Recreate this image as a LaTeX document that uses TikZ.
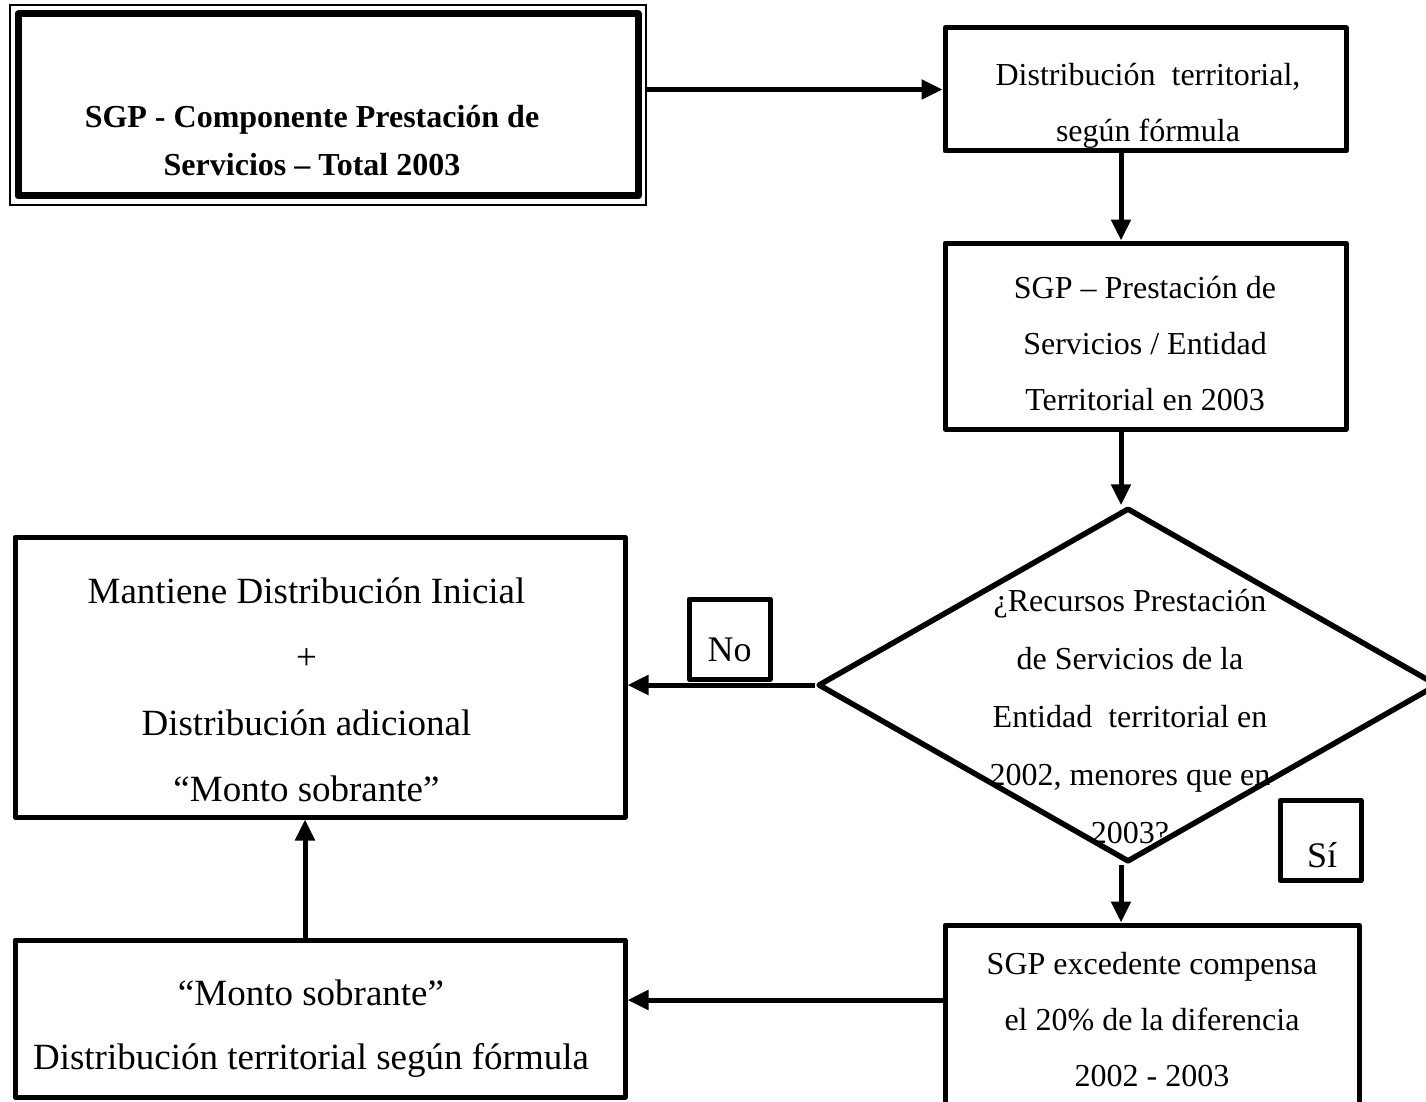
\documentclass[tikz,border=0pt]{standalone}
\usepackage{fontspec}
\setmainfont{Liberation Serif}
\usetikzlibrary{arrows.meta,shapes.geometric}

\begin{document}
\begin{tikzpicture}[x=1pt,y=-1pt,
  box/.style={draw, line width=5pt, line join=round, rectangle, inner sep=0pt},
  tag/.style={draw, line width=5pt, line join=round, rectangle, inner sep=0pt,
              minimum width=81pt, minimum height=80pt},
  decision/.style={draw, line width=5.5pt, line join=round, diamond, inner sep=0pt},
  txt/.style={align=center, inner sep=0pt, font=\fontsize{32}{56}\selectfont},
  bigtxt/.style={align=center, inner sep=0pt, font=\fontsize{37}{66}\selectfont},
  arr/.style={line width=5pt, -{Triangle[length=21pt,width=19pt]}}
]
\useasboundingbox (0,0) rectangle (1426,1102);

% starting block: thin outer frame with a thick inner frame
\node[draw, line width=1.5pt, rectangle, inner sep=0pt,
      minimum width=636pt, minimum height=200pt] (Aout) at (328,105) {};
\node[box, line width=7pt, minimum width=620pt, minimum height=182pt] (A) at (328,105) {};
\node[align=center, inner sep=0pt, font=\fontsize{32}{48}\selectfont\bfseries]
  (At) at (312,142) {\strut SGP - Componente Prestación de\\\strut Servicios – Total 2003};

% right column
\node[box, minimum width=401pt, minimum height=123pt] (B) at (1145.5,89.5) {};
\node[txt] (Bt) at (1148,102.5) {\strut Distribución\ \ territorial,\\\strut según fórmula};

\node[box, minimum width=401pt, minimum height=186pt] (C) at (1145.5,336) {};
\node[txt] (Ct) at (1145,343) {\strut SGP – Prestación de\\\strut Servicios / Entidad\\\strut Territorial en 2003};

\node[decision, minimum width=620pt, minimum height=354pt] (Q) at (1128,685) {};
\node[align=center, inner sep=0pt, font=\fontsize{32}{58}\selectfont]
  (Qt) at (1130,716) {\strut ¿Recursos Prestación\\\strut de Servicios de la\\\strut Entidad\ \ territorial en\\\strut 2002, menores que en\\\strut 2003?};

\node[tag] (No) at (729.5,639) {};
\node[inner sep=0pt, font=\fontsize{36}{40}\selectfont] (Not) at (729.5,650) {No};
\node[tag] (Si) at (1320.5,840.5) {};
\node[inner sep=0pt, font=\fontsize{36}{40}\selectfont] (Sit) at (1322,855) {Sí};

\node[box, minimum width=414pt, minimum height=190pt] (E) at (1152,1020) {};
\node[txt] (Et) at (1152,1019) {\strut SGP excedente compensa\\\strut el 20\% de la diferencia\\\strut 2002 - 2003};

% left column
\node[box, minimum width=610pt, minimum height=280pt] (D) at (320,677) {};
\node[bigtxt] (Dt) at (306.5,689) {\strut Mantiene Distribución Inicial\\\strut +\\\strut Distribución adicional\\\strut “Monto sobrante”};

\node[box, minimum width=610pt, minimum height=157pt] (F) at (320,1018.5) {};
\node[align=center, inner sep=0pt, font=\fontsize{37}{64}\selectfont]
  (Ft) at (311,1025) {\strut “Monto sobrante”\\\strut Distribución territorial según fórmula};

% connector guides
\coordinate (vx) at (1121,0);
\coordinate (fx) at (305,0);
\coordinate (hy) at (0,1000);

% connectors
\draw[arr] (Aout.east |- B.west) -- (B.west);
\draw[arr] (B.south -| vx) -- (C.north -| vx);
\draw[arr] (C.south -| vx) -- (Q.north -| vx);
\draw[arr] (Q.south -| vx) -- (E.north -| vx);
\draw[arr] (Q.west) -- (Q.west -| D.east);
\draw[arr] (E.west |- hy) -- (F.east |- hy);
\draw[arr] (F.north -| fx) -- (D.south -| fx);
\end{tikzpicture}
\end{document}
